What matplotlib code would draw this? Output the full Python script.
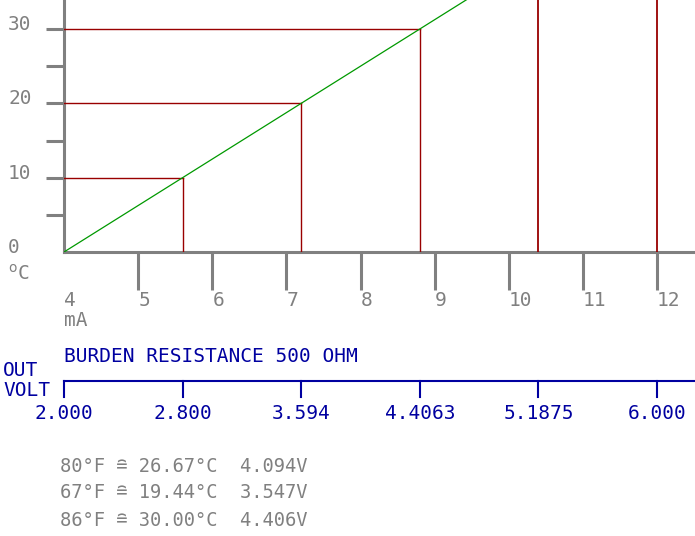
import numpy as np
import matplotlib
matplotlib.use("Agg")
import matplotlib.pyplot as plt
import matplotlib.transforms as mtransforms

# ── data ──────────────────────────────────────────────────────────────────────
MA_RANGE = [4, 20]           # loop current span
DEGC_RANGE = [0, 100]        # temperature span
X_TICKS = [5, 6, 7, 8, 9, 10, 11, 12]
X_LABELS = ["4", "5", "6", "7", "8", "9", "10", "11", "12"]
Y_MAJOR = [10, 20, 30]
Y_MINOR = [5, 15, 25]
Y_LABELS = ["0", "10", "20", "30"]
MARK_DEGC = [10, 20, 30]     # read-off points
MARK_MA = [5.6, 7.2, 8.8]
EXTRA_MA = [10.4, 12]        # plain verticals
VOLT_MA = [4, 5.6, 7.2, 8.8, 10.4, 12]
VOLT_LABELS = ["2.000", "2.800", "3.594", "4.4063", "5.1875", "6.000"]
NOTES = ["80°F ≘ 26.67°C  4.094V",
         "67°F ≘ 19.44°C  3.547V",
         "86°F ≘ 30.00°C  4.406V"]

W, H = 695, 536
GRAY = "#808080"
RED = "#990000"
GREEN = "#009900"
BLUE = "#0000a0"
FONT = "DejaVu Sans Mono"
FS = 14

plt.rcParams["font.family"] = [FONT, "DejaVu Sans"]

fig = plt.figure(figsize=(W / 100, H / 100), dpi=100)

def fx(px):
    return px / W

def fy(py):
    return 1 - py / H

# main axes: origin at pixel (64, 252), 74.125 px per mA, 7.433 px per °C
x0, y0 = 64, 252
ppm = 74.125
ppc = 7.433
ax = fig.add_axes([fx(x0), fy(y0), fx(W - x0), y0 / H])
ax.set_xlim(4, 4 + (W - x0) / ppm)
ax.set_ylim(0, y0 / ppc)
ax.patch.set_alpha(0)
for s in ["top", "right"]:
    ax.spines[s].set_visible(False)
for s in ["left", "bottom"]:
    ax.spines[s].set_color(GRAY)
    ax.spines[s].set_linewidth(2.2)
    ax.spines[s].set_zorder(1)

ax.set_xticks(X_TICKS)
ax.set_yticks(Y_MAJOR)
ax.set_yticks(Y_MINOR, minor=True)
ax.tick_params(axis="x", direction="out", length=38 * 0.72, width=2.2,
               color=GRAY, labelbottom=False)
ax.tick_params(axis="y", which="both", direction="out", length=18 * 0.72,
               width=2.2, color=GRAY, labelleft=False)

# transfer line 4-20 mA -> 0-100 °C
ax.plot(MA_RANGE, DEGC_RANGE, color=GREEN, lw=0.9, zorder=3)

# read-off lines
for ma, c in zip(MARK_MA, MARK_DEGC):
    ax.plot([4, ma], [c, c], color=RED, lw=1.0, zorder=2)
    ax.plot([ma, ma], [0, c], color=RED, lw=1.0, zorder=2)
for ma in EXTRA_MA:
    ax.axvline(ma, color=RED, lw=1.3, zorder=2)

# tick labels
tx = mtransforms.blended_transform_factory(ax.transData, fig.transFigure)
ty = mtransforms.blended_transform_factory(fig.transFigure, ax.transData)
for i, lab in enumerate(X_LABELS):
    ax.text(4 + i, fy(301), lab, transform=tx, ha="left", va="center",
            color=GRAY, fontsize=FS, clip_on=False)
ax.text(4, fy(320), "mA", transform=tx, ha="left", va="center",
        color=GRAY, fontsize=FS, clip_on=False)
for i, lab in enumerate(Y_LABELS):
    ax.text(fx(8), i * 10 + 0.6, lab, transform=ty, ha="left", va="center",
            color=GRAY, fontsize=FS, clip_on=False)
fig.text(fx(8), fy(274), "$^{\\mathsf{o}}$C", ha="left", va="center",
         color=GRAY, fontsize=FS)

# voltage scale
fig.text(fx(64), fy(357), "BURDEN RESISTANCE 500 OHM", ha="left",
         va="center", color=BLUE, fontsize=FS)
fig.text(fx(3), fy(371), "OUT", ha="left", va="center", color=BLUE,
         fontsize=FS)
fig.text(fx(3), fy(390), "VOLT", ha="left", va="center", color=BLUE,
         fontsize=FS)

axv = fig.add_axes([fx(x0), fy(397), fx(W - x0), 16 / H])
axv.set_xlim(ax.get_xlim())
axv.set_ylim(-1, 0)
axv.patch.set_alpha(0)
for s in ["left", "right", "bottom"]:
    axv.spines[s].set_visible(False)
axv.spines["top"].set_color(BLUE)
axv.spines["top"].set_linewidth(1.5)
axv.set_yticks([])
axv.set_xticks(VOLT_MA)
axv.set_xticklabels(VOLT_LABELS)
axv.tick_params(axis="x", direction="in", length=0, labelcolor=BLUE,
                labelsize=FS, pad=5)
# tick marks hang down from the scale line
for ma in VOLT_MA:
    axv.plot([ma, ma], [0, -1], color=BLUE, lw=1.5, clip_on=False)

# notes
for note, py in zip(NOTES, [467, 492, 521]):
    fig.text(fx(60), fy(py), note, ha="left", va="center", color=GRAY,
             fontsize=13.5)

fig.savefig("out.png", dpi=100)
